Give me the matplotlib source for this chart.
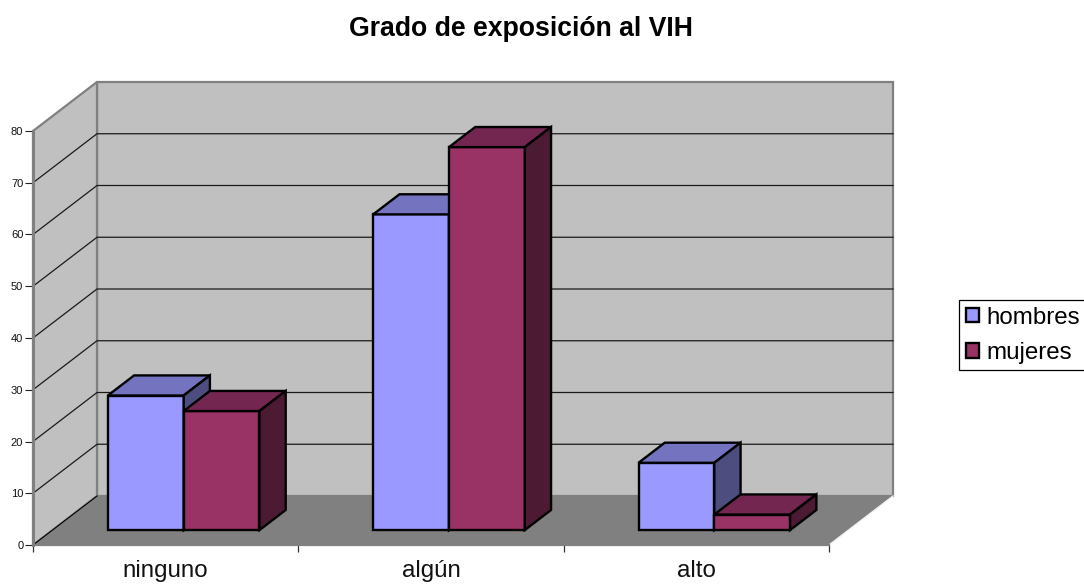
import matplotlib
matplotlib.use("Agg")
import matplotlib.pyplot as plt
from matplotlib.patches import Polygon, Patch

categories = ["ninguno", "algún", "alto"]
hombres = [26, 61, 13]
mujeres = [23, 74, 3]
y_ticks = [0, 10, 20, 30, 40, 50, 60, 70, 80]
series_names = ["hombres", "mujeres"]

W, H = 1084, 585
plt.rcParams["font.family"] = ["Liberation Sans", "DejaVu Sans"]
fig = plt.figure(figsize=(W / 100, H / 100), dpi=100, facecolor="white")

# front plane of the 3-D box in pixels
L, R, B, T = 33.0, 829.0, 545.0, 131.0
ax = fig.add_axes([L / W, 1 - B / H, (R - L) / W, (B - T) / H])
ax.set_xlim(0, len(categories))
ax.set_ylim(0, y_ticks[-1])
ax.patch.set_visible(False)
for s in ax.spines.values():
    s.set_visible(False)

# oblique projection: depth d in 0..1 moves a point up and to the right
DX = 64.0 * len(categories) / (R - L)
DY = 49.0 * y_ticks[-1] / (B - T)


def pr(x, v, d):
    return (x + d * DX, v + d * DY)


def poly(pts, fc, ec="none", lw=0.0, z=1):
    ax.add_patch(Polygon(pts, closed=True, facecolor=fc, edgecolor=ec, linewidth=lw,
                         joinstyle="miter", clip_on=False, zorder=z))


xmax = len(categories)
vmax = y_ticks[-1]
GRAY = "#808080"

# walls and floor
poly([pr(0, 0, 1), pr(xmax, 0, 1), pr(xmax, vmax, 1), pr(0, vmax, 1)], "#C0C0C0", GRAY, 1.6, 1)
poly([pr(0, 0, 0), pr(0, 0, 1), pr(0, vmax, 1), pr(0, vmax, 0)], "#C0C0C0", GRAY, 1.6, 1)

# gridlines
for v in y_ticks[1:-1]:
    a, b, c = pr(0, v, 0), pr(0, v, 1), pr(xmax, v, 1)
    ax.plot([a[0], b[0], c[0]], [a[1], b[1], c[1]], color="#1a1a1a", lw=0.9, clip_on=False, zorder=2,
            solid_joinstyle="miter")

poly([pr(0, 0, 0), pr(xmax, 0, 0), pr(xmax, 0, 1), pr(0, 0, 1)], GRAY, "none", 0, 3)
a, b = pr(0, 0, 0), pr(0, 0, 1)
ax.plot([a[0], b[0]], [a[1], b[1]], color="black", lw=0.8, clip_on=False, zorder=3)
a, b = pr(xmax, 0, 0), pr(xmax, 0, 1)
ax.plot([a[0], b[0]], [a[1], b[1]], color="#f2f2f2", lw=1.0, clip_on=False, zorder=3)
ax.plot([0, xmax], [0, 0], color=GRAY, lw=1.6, clip_on=False, zorder=3)
ax.plot([0, 0], [0, vmax], color=GRAY, lw=2.2, clip_on=False, zorder=3)

# bars
bw = 1 / 3.5
start = 0.73 / 3.5
d0, d1 = 0.305, 0.715
styles = [("#9999FF", "#7373BF", "#4D4D80"), ("#993366", "#732650", "#4D1A33")]
EDGE = dict(ec="black", lw=1.7, z=5)
for i in range(len(categories)):
    for j, vals in enumerate([hombres, mujeres]):
        f, t, sd = styles[j]
        x0 = i + start + j * bw
        x1 = x0 + bw
        v = vals[i]
        poly([pr(x0, 0, d0), pr(x1, 0, d0), pr(x1, v, d0), pr(x0, v, d0)], f, **EDGE)
        poly([pr(x0, v, d0), pr(x1, v, d0), pr(x1, v, d1), pr(x0, v, d1)], t, **EDGE)
        poly([pr(x1, 0, d0), pr(x1, 0, d1), pr(x1, v, d1), pr(x1, v, d0)], sd, **EDGE)

# axes ticks and labels
ax.set_yticks(y_ticks)
ax.set_yticklabels([str(v) for v in y_ticks], fontsize=8, color="#111111")
ax.tick_params(axis="y", length=5.5, width=0.8, color="#222222", pad=1.5)
ax.set_xticks(range(len(categories) + 1))
ax.set_xticklabels([""] * (len(categories) + 1))
ax.tick_params(axis="x", which="major", length=5, width=0.9, color="#333333")
ax.set_xticks([i + 0.5 for i in range(len(categories))], minor=True)
ax.set_xticklabels(categories, minor=True, fontsize=17.4, color="#111111")
ax.tick_params(axis="x", which="minor", length=0, pad=10.5)

fig.text(521 / W, 1 - 28.5 / H, "Grado de exposición al VIH", fontsize=19.2, fontweight="bold",
         ha="center", va="center", color="black")

handles = [Patch(facecolor=styles[k][0], edgecolor="black", linewidth=1.7, label=series_names[k])
           for k in range(2)]
leg = fig.legend(handles=handles, loc="upper left", bbox_to_anchor=(959 / W, 1 - 300 / H),
                 fontsize=17.4, frameon=True, fancybox=False, edgecolor="black", framealpha=1,
                 borderpad=0.27, labelspacing=0.55, handlelength=0.55, handleheight=0.55,
                 handletextpad=0.3, borderaxespad=0)
leg.get_frame().set_linewidth(0.9)

fig.savefig("out.png", dpi=100, facecolor="white")
